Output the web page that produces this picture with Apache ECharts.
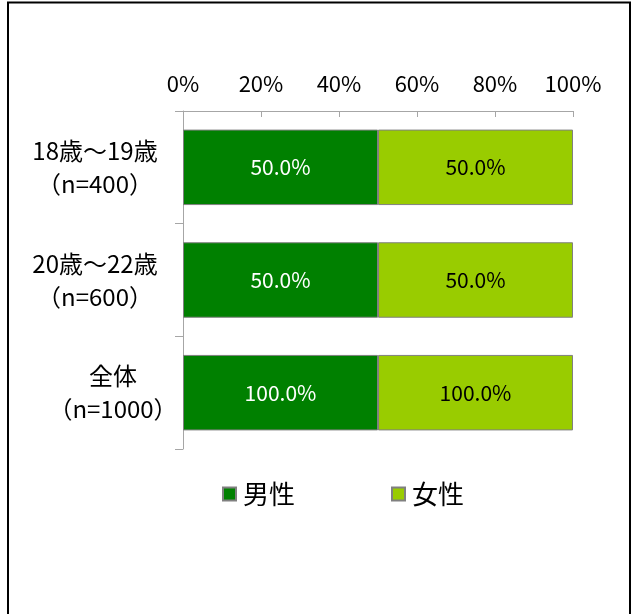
<!DOCTYPE html>
<html>
<head>
<meta charset="utf-8">
<script src="https://cdn.jsdelivr.net/npm/echarts@6/dist/echarts.min.js"></script>
<style>
  html, body { margin: 0; padding: 0; background: #fff; }
  #chart { width: 633px; height: 614px; }
</style>
</head>
<body>
<div id="chart"></div>
<script>
// Age groups and their sample sizes
const groups = ['18歳～19歳', '20歳～22歳', '全体'];
const sampleSizes = [400, 600, 1000];

// Series names and values (%), drawn as 100% stacked shares per group
const seriesNames = ['男性', '女性'];
const maleValues = [50.0, 50.0, 100.0];
const femaleValues = [50.0, 50.0, 100.0];

// Axis ticks
const axisMin = 0;
const axisMax = 100;
const axisStep = 20;

const FONT = "'Noto Sans CJK JP', sans-serif";
const categories = groups.map((g, i) => g + '\n（n=' + sampleSizes[i] + '）');

// Each group is normalised to 100%; labels keep the raw value
function shares(values) {
  return values.map((v, i) => {
    const total = maleValues[i] + femaleValues[i];
    return { value: v / total * 100, raw: v };
  });
}

const chart = echarts.init(document.getElementById('chart'), null, { renderer: 'canvas' });

const barLabel = (color) => ({
  show: true,
  position: 'inside',
  color: color,
  fontFamily: FONT,
  fontSize: 21,
  formatter: (p) => p.data.raw.toFixed(1) + '%'
});

chart.setOption({
  backgroundColor: '#ffffff',
  animation: false,
  graphic: [{
    type: 'rect',
    shape: { x: 8, y: 2.5, width: 622, height: 700 },
    style: { fill: 'none', stroke: '#000', lineWidth: 2 },
    silent: true
  }],
  grid: { left: 183, top: 111, width: 390, height: 338, containLabel: false },
  legend: {
    data: seriesNames,
    left: 222,
    top: 481,
    padding: 0,
    itemWidth: 13,
    itemHeight: 13,
    itemGap: 96,
    icon: 'rect',
    textStyle: { fontFamily: FONT, fontSize: 26, color: '#000', padding: [0, 0, 0, 2] }
  },
  xAxis: {
    type: 'value',
    position: 'top',
    min: axisMin,
    max: axisMax,
    interval: axisStep,
    axisLine: { show: true, lineStyle: { color: '#a6a6a6', width: 1 } },
    axisTick: { show: true, inside: true, length: 6, lineStyle: { color: '#a6a6a6' } },
    splitLine: { show: false },
    axisLabel: {
      formatter: '{value}%',
      color: '#000',
      fontFamily: FONT,
      fontSize: 22,
      margin: 16
    }
  },
  yAxis: {
    type: 'category',
    inverse: true,
    data: categories,
    axisLine: { show: true, lineStyle: { color: '#a6a6a6', width: 1 } },
    axisTick: { show: true, length: 8, lineStyle: { color: '#a6a6a6' } },
    axisLabel: {
      align: 'center',
      margin: 88,
      color: '#000',
      fontFamily: FONT,
      fontSize: 24,
      formatter: (v, i) => {
        const style = i === groups.length - 1 ? 'total' : 'row';
        return v.split('\n').map(s => '{' + style + '|' + s + '}').join('\n');
      },
      rich: {
        row: { align: 'center', fontFamily: FONT, fontSize: 24, lineHeight: 33, color: '#000' },
        // overall row sits further right under its own block
        total: { align: 'center', fontFamily: FONT, fontSize: 24, lineHeight: 33, color: '#000', padding: [0, 0, 0, 36] }
      }
    }
  },
  series: [
    {
      name: seriesNames[0],
      type: 'bar',
      stack: 'share',
      barCategoryGap: '33%',
      data: shares(maleValues),
      itemStyle: { color: '#008000', borderColor: '#808080', borderWidth: 1 },
      label: barLabel('#ffffff')
    },
    {
      name: seriesNames[1],
      type: 'bar',
      stack: 'share',
      barCategoryGap: '33%',
      data: shares(femaleValues),
      itemStyle: { color: '#99cc00', borderColor: '#808080', borderWidth: 1 },
      label: barLabel('#000000')
    }
  ]
});
</script>
</body>
</html>
